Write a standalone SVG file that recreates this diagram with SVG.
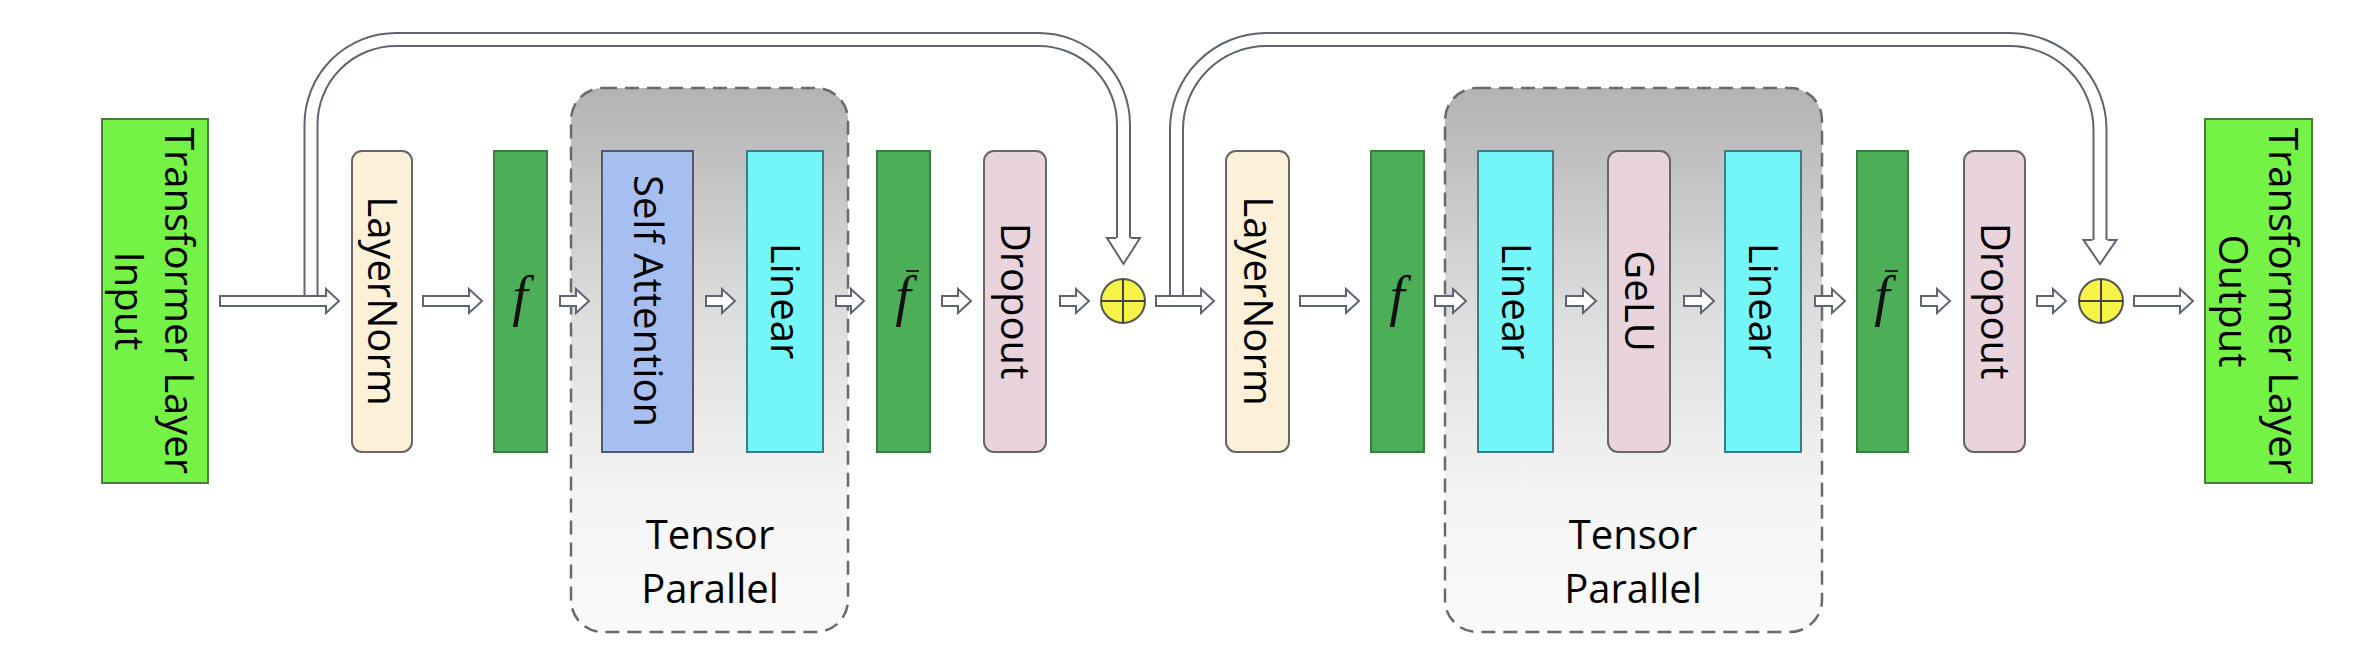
<svg xmlns="http://www.w3.org/2000/svg" width="2374" height="656" viewBox="0 0 2374 656">
  <defs>
    <linearGradient id="tpGrad" x1="0" y1="0" x2="0" y2="1">
      <stop offset="0" stop-color="#b3b3b3"/>
      <stop offset="0.4" stop-color="#dcdcdc"/>
      <stop offset="0.75" stop-color="#f4f4f4"/>
      <stop offset="1" stop-color="#fafafa"/>
    </linearGradient>
    <style>
      .lbl { font-family: "Open Sans", "Liberation Sans", sans-serif; font-size: 40px; fill: #000; text-anchor: middle; }
      .fx { font-family: "Liberation Serif", "DejaVu Serif", serif; font-style: italic; font-size: 56px; fill: #111; text-anchor: middle; }
      .io { fill: #74f245; stroke: #4a7d3d; stroke-width: 2; }
      .fbar { fill: #4caf58; stroke: #3b7a46; stroke-width: 2; }
      .ln { fill: #fcf1d8; stroke: #666; stroke-width: 2; }
      .sa { fill: #a6bff0; stroke: #4f5a6e; stroke-width: 2; }
      .lin { fill: #74f6f8; stroke: #3f7b80; stroke-width: 2; }
      .pink { fill: #e9d3dd; stroke: #666; stroke-width: 2; }
      .tp { fill: url(#tpGrad); stroke: #6a6a6a; stroke-width: 2.5; stroke-dasharray: 14 8; }
      .arr { fill: #fff; stroke: #5e6572; stroke-width: 2; stroke-linejoin: miter; }
      .pipeO { fill: none; stroke: #5e6572; stroke-width: 15; }
      .pipeI { fill: none; stroke: #fff; stroke-width: 11; }
      .plus { fill: #f7f246; stroke: #555; stroke-width: 2; }
      .cross { stroke: #444; stroke-width: 2; }
      .bar { stroke: #222; stroke-width: 2; }
    </style>
  </defs>

  <rect width="2374" height="656" fill="#fff"/>

  <!-- Tensor parallel groups -->
  <g id="tp1">
    <rect class="tp" x="571" y="88" width="277" height="544" rx="32"/>
    <text class="lbl" x="710" y="549">Tensor</text>
    <text class="lbl" x="710" y="603">Parallel</text>
  </g>
  <g id="tp2">
    <rect class="tp" x="1445" y="88" width="377" height="544" rx="32"/>
    <text class="lbl" x="1633" y="549">Tensor</text>
    <text class="lbl" x="1633" y="603">Parallel</text>
  </g>

  <!-- Nodes -->
  <g id="input">
    <rect class="io" x="102" y="119" width="106" height="364"/>
    <text class="lbl" transform="translate(155,301) rotate(90)" y="-10">Transformer Layer</text>
    <text class="lbl" transform="translate(155,301) rotate(90)" y="40">Input</text>
  </g>
  <g id="layernorm1">
    <rect class="ln" x="352" y="151" width="60" height="301" rx="10"/>
    <text class="lbl" transform="translate(382,301) rotate(90)" y="14">LayerNorm</text>
  </g>
  <g id="f1">
    <rect class="fbar" x="494" y="151" width="53" height="301"/>
    <text class="fx" x="520" y="315">f</text>
  </g>
  <g id="selfattention">
    <rect class="sa" x="602" y="151" width="91" height="301"/>
    <text class="lbl" transform="translate(647.5,301) rotate(90)" y="14">Self Attention</text>
  </g>
  <g id="linear1">
    <rect class="lin" x="747" y="151" width="76" height="301"/>
    <text class="lbl" transform="translate(785,301) rotate(90)" y="14">Linear</text>
  </g>
  <g id="fbar1">
    <rect class="fbar" x="877" y="151" width="53" height="301"/>
    <text class="fx" x="903" y="315">f</text>
    <line class="bar" x1="906" y1="271" x2="919" y2="271"/>
  </g>
  <g id="dropout1">
    <rect class="pink" x="984" y="151" width="62" height="301" rx="10"/>
    <text class="lbl" transform="translate(1015,301) rotate(90)" y="14">Dropout</text>
  </g>
  <g id="add1">
    <circle class="plus" cx="1123" cy="301" r="22"/>
    <line class="cross" x1="1101" y1="301" x2="1145" y2="301"/>
    <line class="cross" x1="1123" y1="279" x2="1123" y2="323"/>
  </g>
  <g id="layernorm2">
    <rect class="ln" x="1226" y="151" width="63" height="301" rx="10"/>
    <text class="lbl" transform="translate(1257.5,301) rotate(90)" y="14">LayerNorm</text>
  </g>
  <g id="f2">
    <rect class="fbar" x="1371" y="151" width="53" height="301"/>
    <text class="fx" x="1397" y="315">f</text>
  </g>
  <g id="linear2">
    <rect class="lin" x="1478" y="151" width="75" height="301"/>
    <text class="lbl" transform="translate(1515.5,301) rotate(90)" y="14">Linear</text>
  </g>
  <g id="gelu">
    <rect class="pink" x="1608" y="151" width="62" height="301" rx="10"/>
    <text class="lbl" transform="translate(1639,301) rotate(90)" y="14">GeLU</text>
  </g>
  <g id="linear3">
    <rect class="lin" x="1725" y="151" width="76" height="301"/>
    <text class="lbl" transform="translate(1763,301) rotate(90)" y="14">Linear</text>
  </g>
  <g id="fbar2">
    <rect class="fbar" x="1857" y="151" width="51" height="301"/>
    <text class="fx" x="1882" y="315">f</text>
    <line class="bar" x1="1885" y1="271" x2="1898" y2="271"/>
  </g>
  <g id="dropout2">
    <rect class="pink" x="1964" y="151" width="61" height="301" rx="10"/>
    <text class="lbl" transform="translate(1994.5,301) rotate(90)" y="14">Dropout</text>
  </g>
  <g id="add2">
    <circle class="plus" cx="2101" cy="301" r="22"/>
    <line class="cross" x1="2079" y1="301" x2="2123" y2="301"/>
    <line class="cross" x1="2101" y1="279" x2="2101" y2="323"/>
  </g>
  <g id="output">
    <rect class="io" x="2205" y="119" width="107" height="364"/>
    <text class="lbl" transform="translate(2258.5,301) rotate(90)" y="-10">Transformer Layer</text>
    <text class="lbl" transform="translate(2258.5,301) rotate(90)" y="40">Output</text>
  </g>

  <!-- Connectors -->
  <g id="connectors">
    <!-- residual pipes -->
    <path class="pipeO" d="M311,297 L311,124.5 A85,85 0 0 1 396,39.5 L1038.5,39.5 A85,85 0 0 1 1123.5,124.5 L1123.5,239"/>
    <path class="pipeI" d="M311,297 L311,124.5 A85,85 0 0 1 396,39.5 L1038.5,39.5 A85,85 0 0 1 1123.5,124.5 L1123.5,239"/>
    <path class="arr" d="M1116,238 L1107,238 L1123.5,264 L1140,238 L1131,238"/>

    <path class="pipeO" d="M1176.5,297 L1176.5,129.5 A90,90 0 0 1 1266.5,39.5 L2010,39.5 A90,90 0 0 1 2100,129.5 L2100,241"/>
    <path class="pipeI" d="M1176.5,297 L1176.5,129.5 A90,90 0 0 1 1266.5,39.5 L2010,39.5 A90,90 0 0 1 2100,129.5 L2100,241"/>
    <path class="arr" d="M2092.5,240 L2083.5,240 L2100,264 L2116.5,240 L2107.5,240"/>

    <!-- block arrows along main line -->
    <polygon class="arr" points="220,296 326,296 326,289 339,301 326,313 326,306 220,306"/>
    <polygon class="arr" points="423,296 469,296 469,289 482,301 469,313 469,306 423,306"/>
    <polygon class="arr" points="560,296 576,296 576,289 589,301 576,313 576,306 560,306"/>
    <polygon class="arr" points="706,296 722,296 722,289 735,301 722,313 722,306 706,306"/>
    <polygon class="arr" points="836,296 851,296 851,289 864,301 851,313 851,306 836,306"/>
    <polygon class="arr" points="942,296 958,296 958,289 971,301 958,313 958,306 942,306"/>
    <polygon class="arr" points="1060,296 1076,296 1076,289 1089,301 1076,313 1076,306 1060,306"/>
    <polygon class="arr" points="1156,296 1201,296 1201,289 1214,301 1201,313 1201,306 1156,306"/>
    <polygon class="arr" points="1300,296 1346,296 1346,289 1359,301 1346,313 1346,306 1300,306"/>
    <polygon class="arr" points="1435,296 1453,296 1453,289 1466,301 1453,313 1453,306 1435,306"/>
    <polygon class="arr" points="1566,296 1583,296 1583,289 1596,301 1583,313 1583,306 1566,306"/>
    <polygon class="arr" points="1684,296 1701,296 1701,289 1714,301 1701,313 1701,306 1684,306"/>
    <polygon class="arr" points="1815,296 1832,296 1832,289 1845,301 1832,313 1832,306 1815,306"/>
    <polygon class="arr" points="1921,296 1937,296 1937,289 1950,301 1937,313 1937,306 1921,306"/>
    <polygon class="arr" points="2037,296 2053,296 2053,289 2066,301 2053,313 2053,306 2037,306"/>
    <polygon class="arr" points="2134,296 2180,296 2180,289 2193,301 2180,313 2180,306 2134,306"/>
  </g>
</svg>
